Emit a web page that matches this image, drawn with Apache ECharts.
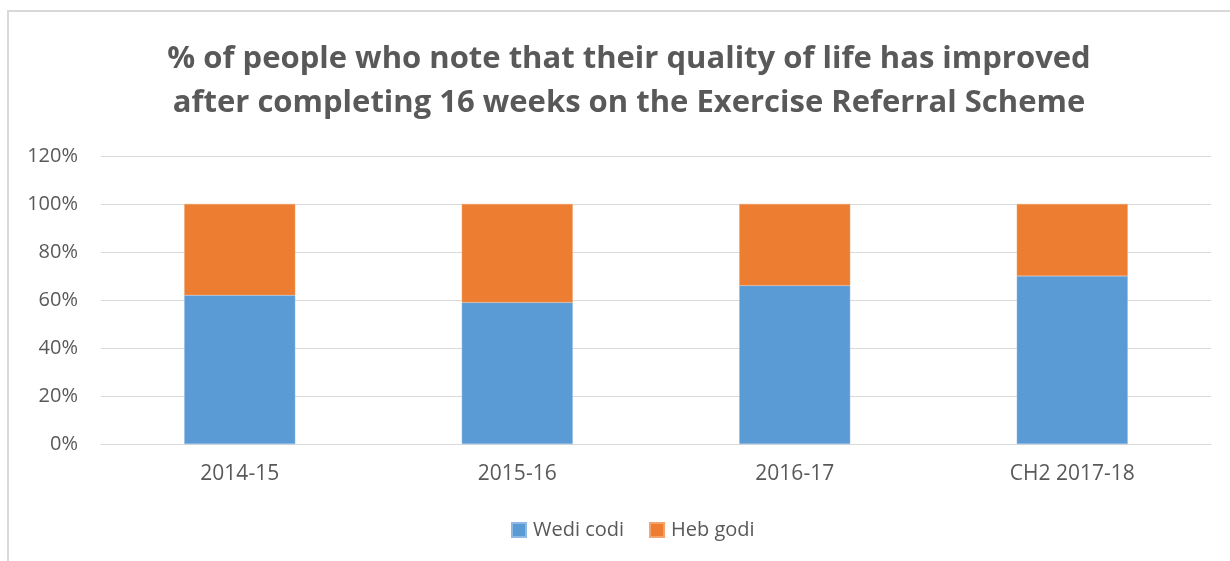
<!DOCTYPE html>
<html lang="en">
  <head>
    <meta charset="UTF-8" />
    <title>Quality of life improved</title>
    <style>
      * {
        margin: 0;
        padding: 0;
      }
      body {
        background: #fff;
      }
      #frame {
        position: absolute;
        left: 7px;
        top: 10px;
        width: 1230px;
        height: 560px;
        border-left: 2px solid #d9d9d9;
        border-top: 2px solid #d9d9d9;
      }
    </style>
  </head>
  <body>
    <div id="frame"></div>
    <div id="main" style="position: absolute; left: 0; top: 0; width: 1230px; height: 561px;"></div>
    <script src="https://cdn.jsdelivr.net/npm/echarts@6/dist/echarts.min.js"></script>
    <script>
      // data
      const categories = ["2014-15", "2015-16", "2016-17", "CH2 2017-18"];
      const wediCodi = [62, 59, 66, 70];
      const hebGodi = [38, 41, 34, 30];
      const yTicks = [0, 20, 40, 60, 80, 100, 120];

      const font = "'Open Sans', 'Liberation Sans', sans-serif";
      const textColor = "#595959";

      let myEcharts = echarts.init(document.getElementById("main"));
      let option = {
        animation: false,
        title: {
          text: "% of people who note that their quality of life has improved\nafter completing 16 weeks on the Exercise Referral Scheme",
          left: 624,
          textAlign: "center",
          top: 32,
          textStyle: {
            fontFamily: font,
            fontSize: 31,
            fontWeight: "bold",
            color: textColor,
            lineHeight: 44,
          },
        },
        legend: {
          top: 515,
          left: 506,
          itemWidth: 14,
          itemHeight: 14,
          itemGap: 25,
          icon: "rect",
          textStyle: { fontFamily: font, fontSize: 20, color: textColor, padding: [0, 0, 0, 2] },
          data: ["Wedi codi", "Heb godi"],
        },
        grid: {
          left: 101,
          right: 19,
          top: 156,
          bottom: 117,
          containLabel: false,
        },
        xAxis: {
          type: "category",
          data: categories,
          axisLine: { lineStyle: { color: "#d9d9d9", width: 1 } },
          axisTick: { show: false },
          axisLabel: {
            fontFamily: font,
            fontSize: 21,
            color: textColor,
            margin: 20,
          },
        },
        yAxis: {
          type: "value",
          min: yTicks[0],
          max: yTicks[yTicks.length - 1],
          interval: 20,
          axisLine: { show: false },
          axisTick: { show: false },
          splitLine: { lineStyle: { color: "#d9d9d9", width: 1 } },
          axisLabel: {
            formatter: "{value}%",
            fontFamily: font,
            fontSize: 20,
            color: textColor,
            margin: 23,
          },
        },
        series: [
          {
            name: "Wedi codi",
            type: "bar",
            stack: "total",
            data: wediCodi,
            barWidth: "40%",
            itemStyle: { color: "#5b9bd5", borderColor: "#8fb9e3", borderWidth: 0.5 },
          },
          {
            name: "Heb godi",
            type: "bar",
            stack: "total",
            data: hebGodi,
            barWidth: "40%",
            itemStyle: { color: "#ed7d31", borderColor: "#f2a26b", borderWidth: 0.5 },
          },
        ],
      };
      myEcharts.setOption(option);
    </script>
  </body>
</html>
